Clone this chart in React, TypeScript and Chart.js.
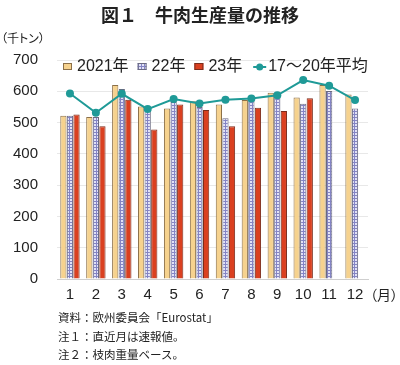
import React, { useEffect, useRef } from "react";
import { Chart, registerables } from "chart.js";

Chart.register(...registerables);

const months = ["1", "2", "3", "4", "5", "6", "7", "8", "9", "10", "11", "12"];
const y2021 = [522, 518, 620, 551, 545, 568, 558, 572, 595, 580, 620, 590];
const y2022 = [522, 518, 607, 550, 566, 550, 514, 579, 595, 560, 601, 545];
const y2023 = [526, 488, 573, 478, 558, 540, 488, 547, 537, 578, null, null];
const avg1720 = [593, 531, 592, 543, 575, 561, 573, 577, 587, 636, 618, 572];
const yTicks = [0, 100, 200, 300, 400, 500, 600, 700];
const seriesLabels = ["2021年", "22年", "23年", "17～20年平均"];

const FONT = '"Liberation Sans", "Noto Sans CJK JP", Arial, sans-serif';
const CJK = '"Noto Sans CJK JP", "Liberation Sans", sans-serif';

function makePattern(): CanvasPattern | string {
  const c = document.createElement("canvas");
  c.width = 3;
  c.height = 3;
  const g = c.getContext("2d");
  if (!g) return "#c8c8e8";
  g.fillStyle = "#e2e2f6";
  g.fillRect(0, 0, 3, 3);
  g.fillStyle = "#8484c4";
  g.fillRect(0, 0, 3, 1);
  g.fillRect(0, 0, 1, 3);
  const p = g.createPattern(c, "repeat");
  return p || "#c8c8e8";
}

export default function App() {
  const ref = useRef<HTMLCanvasElement>(null);

  useEffect(() => {
    if (!ref.current) return;
    const pattern = makePattern();

    const legendPlugin = {
      id: "customLegend",
      afterDraw(chart: any) {
        const ctx = chart.ctx as CanvasRenderingContext2D;
        ctx.save();
        ctx.font = `16px ${FONT}`;
        ctx.textBaseline = "middle";
        ctx.textAlign = "left";
        const cy = 67;
        let x = 63;
        const ds = chart.data.datasets;
        for (let i = 0; i < 3; i++) {
          const d = ds[i];
          ctx.fillStyle = d.backgroundColor;
          ctx.fillRect(x, cy - 4, 9, 7);
          ctx.strokeStyle = d.borderColor;
          ctx.lineWidth = 1;
          ctx.strokeRect(x + 0.5, cy - 3.5, 8, 6);
          x += 14;
          ctx.fillStyle = "#222";
          ctx.fillText(d.label, x, cy);
          x += ctx.measureText(d.label).width + 9;
        }
        x += 2;
        const l = ds[3];
        ctx.strokeStyle = l.borderColor;
        ctx.lineWidth = 2;
        ctx.beginPath();
        ctx.moveTo(x, cy);
        ctx.lineTo(x + 13, cy);
        ctx.stroke();
        ctx.fillStyle = l.borderColor;
        ctx.beginPath();
        ctx.arc(x + 6.5, cy, 3.5, 0, Math.PI * 2);
        ctx.fill();
        x += 15;
        ctx.fillStyle = "#222";
        ctx.fillText(l.label, x, cy);
        ctx.restore();
      },
    };

    const chart = new Chart(ref.current, {
      type: "bar",
      data: {
        labels: months,
        datasets: [
          {
            label: seriesLabels[0],
            data: y2021,
            backgroundColor: "#f6d28e",
            borderColor: "#8c7048",
            borderWidth: 1,
            order: 1,
            categoryPercentage: 0.76,
            barPercentage: 0.95,
          } as any,
          {
            label: seriesLabels[1],
            data: y2022,
            backgroundColor: pattern,
            borderColor: "#6a6a80",
            borderWidth: 1,
            order: 1,
            categoryPercentage: 0.76,
            barPercentage: 0.95,
          },
          {
            label: seriesLabels[2],
            data: y2023,
            backgroundColor: "#da4020",
            borderColor: "#7a2c1c",
            borderWidth: 1,
            order: 1,
            categoryPercentage: 0.76,
            barPercentage: 0.95,
          },
          {
            type: "line",
            label: seriesLabels[3],
            data: avg1720,
            borderColor: "#1f9a97",
            backgroundColor: "#1f9a97",
            borderWidth: 2,
            pointRadius: 4,
            pointBackgroundColor: "#1f9a97",
            pointBorderWidth: 0,
            tension: 0,
            order: 0,
          } as any,
        ],
      },
      options: {
        responsive: false,
        animation: false,
        devicePixelRatio: 1,
        layout: { padding: { left: 0, right: 32, top: 60, bottom: 56 } },
        plugins: {
          legend: { display: false },
          tooltip: { enabled: false },
          title: { display: false },
        },
        scales: {
          x: {
            grid: { display: false, drawTicks: false },
            border: { display: true, color: "#cfcfcf" },
            ticks: {
              color: "#222",
              font: { family: FONT, size: 15 },
              padding: 7,
              maxRotation: 0,
            },
            afterFit(scale: any) {
              scale.height = 30;
            },
          },
          y: {
            min: 0,
            max: 700,
            afterBuildTicks(scale: any) {
              scale.ticks = yTicks.map((v) => ({ value: v }));
            },
            grid: { color: "#e8e8e8", drawTicks: false },
            border: { display: false },
            ticks: {
              color: "#222",
              font: { family: FONT, size: 15 },
              padding: 19,
            },
            afterFit(scale: any) {
              scale.width = 57;
            },
          },
        },
      },
      plugins: [legendPlugin],
    } as any);

    return () => chart.destroy();
  }, []);

  const textStyle: React.CSSProperties = {
    position: "absolute",
    fontFamily: CJK,
    color: "#222",
    whiteSpace: "nowrap",
    lineHeight: 1,
  };

  return (
    <div
      style={{
        position: "absolute",
        left: 0,
        top: 0,
        width: 400,
        height: 365,
        background: "#fff",
        overflow: "hidden",
      }}
    >
      <canvas ref={ref} width={400} height={365} style={{ position: "absolute", left: 0, top: 0 }} />
      <div
        style={{
          ...textStyle,
          left: 0,
          width: 400,
          top: 5,
          textAlign: "center",
          fontSize: 18,
          fontWeight: 700,
        }}
      >
        図１　牛肉生産量の推移
      </div>
      <div style={{ ...textStyle, left: 1, top: 32, fontSize: 12, fontFeatureSettings: '"palt"' }}>（千トン）</div>
      <div style={{ ...textStyle, left: 370, top: 287, fontSize: 14, fontFeatureSettings: '"palt"' }}>（月）</div>
      <div style={{ ...textStyle, left: 58, top: 312, fontSize: 11.5 }}>資料：欧州委員会「Eurostat」</div>
      <div style={{ ...textStyle, left: 58, top: 331, fontSize: 11.5 }}>注１：直近月は速報値。</div>
      <div style={{ ...textStyle, left: 58, top: 349, fontSize: 11.5 }}>注２：枝肉重量ベース。</div>
    </div>
  );
}
